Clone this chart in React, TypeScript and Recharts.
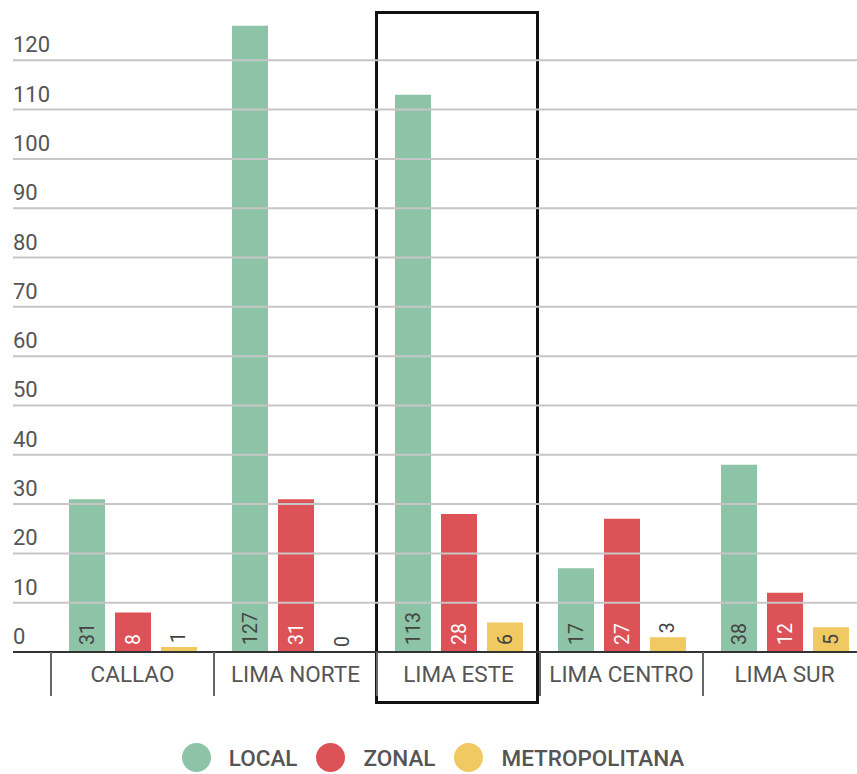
import { Bar, BarChart, LabelList, Legend, ReferenceArea, XAxis, YAxis } from "recharts";

const categories = ["CALLAO", "LIMA NORTE", "LIMA ESTE", "LIMA CENTRO", "LIMA SUR"];
const localValues = [31, 127, 113, 17, 38];
const zonalValues = [8, 31, 28, 27, 12];
const metroValues = [1, 0, 6, 3, 5];
const yTicks = [0, 10, 20, 30, 40, 50, 60, 70, 80, 90, 100, 110, 120];
const highlighted = "LIMA ESTE";

const series = [
  { key: "local", name: "LOCAL", color: "#8dc3a6", text: "#444" },
  { key: "zonal", name: "ZONAL", color: "#dd5256", text: "#fff" },
  { key: "metro", name: "METROPOLITANA", color: "#f0c962", text: "#444" },
];

const data = categories.map((c, i) => ({
  name: c,
  local: localValues[i],
  zonal: zonalValues[i],
  metro: metroValues[i],
}));

const FONT = "Roboto, 'Noto Sans', sans-serif";
const CHART_W = 866;

function YTick(props: any) {
  const { y, payload } = props;
  const isZero = payload.value === 0;
  return (
    <g>
      <line
        x1={13}
        x2={CHART_W}
        y1={y}
        y2={y}
        stroke={isZero ? "#333" : "#c6c6c6"}
        strokeWidth={2}
      />
      <text x={13} y={y - 8} fill="#555" fontSize={22} fontFamily={FONT}>
        {payload.value}
      </text>
    </g>
  );
}

function XTick(props: any) {
  const { x, y, payload } = props;
  const half = payload.offset || 81.5;
  return (
    <g>
      <line x1={x - half} x2={x - half} y1={y} y2={y + 44} stroke="#666" strokeWidth={2} />
      <text x={x} y={y + 30} textAnchor="middle" fill="#555" fontSize={22.5} fontFamily={FONT}>
        {payload.value}
      </text>
    </g>
  );
}

function makeLabel(fill: string) {
  return (props: any) => {
    const { x, y, width, height, value } = props;
    const len = String(value).length * 11;
    const inside = height >= len + 12;
    const cx = x + width / 2;
    const cy = inside ? y + height - 7 : y - 4;
    return (
      <text
        x={cx}
        y={cy}
        transform={`rotate(-90 ${cx} ${cy})`}
        textAnchor="start"
        dominantBaseline="central"
        fill={inside ? fill : "#444"}
        fontSize={19.5}
        fontFamily={FONT}
      >
        {value}
      </text>
    );
  };
}

function HighlightBox(props: any) {
  const { x, y, width, height } = props;
  return (
    <rect
      x={x - 0.5}
      y={y + 1.5}
      width={width - 2}
      height={height + 49}
      fill="none"
      stroke="#111"
      strokeWidth={3}
    />
  );
}

function LegendContent() {
  return (
    <div
      style={{
        display: "flex",
        justifyContent: "center",
        alignItems: "center",
        paddingTop: 39,
        fontFamily: FONT,
      }}
    >
      {series.map((s, i) => (
        <div
          key={s.key}
          style={{ display: "flex", alignItems: "center", marginRight: i < series.length - 1 ? 19 : 0 }}
        >
          <span
            style={{
              width: 29,
              height: 29,
              borderRadius: "50%",
              background: s.color,
              display: "inline-block",
              marginRight: 18,
            }}
          />
          <span style={{ fontSize: 22.5, fontWeight: 500, color: "#555" }}>{s.name}</span>
        </div>
      ))}
    </div>
  );
}

export default function App() {
  return (
    <div
      style={{
        position: "absolute",
        left: 0,
        top: 0,
        width: 857,
        height: 774,
        overflow: "hidden",
        background: "#fff",
      }}
    >
      <BarChart
        width={CHART_W}
        height={774}
        data={data}
        margin={{ top: 11, right: 0, bottom: 0, left: 0 }}
        barSize={36}
        barGap={10}
      >
        <YAxis
          width={51}
          domain={[0, 130]}
          ticks={yTicks}
          interval={0}
          axisLine={false}
          tickLine={false}
          tick={<YTick />}
        />
        {series.map((s) => (
          <Bar
            key={s.key}
            dataKey={s.key}
            name={s.name}
            fill={s.color}
            minPointSize={1}
            isAnimationActive={false}
          >
            <LabelList dataKey={s.key} content={makeLabel(s.text)} />
          </Bar>
        ))}
        <XAxis
          dataKey="name"
          height={52}
          interval={0}
          axisLine={{ stroke: "#333", strokeWidth: 2 }}
          tickLine={false}
          tickSize={0}
          tickMargin={0}
          tick={<XTick />}
        />
        <ReferenceArea x1={highlighted} x2={highlighted} shape={<HighlightBox />} />
        <Legend verticalAlign="bottom" height={70} content={<LegendContent />} />
      </BarChart>
    </div>
  );
}
